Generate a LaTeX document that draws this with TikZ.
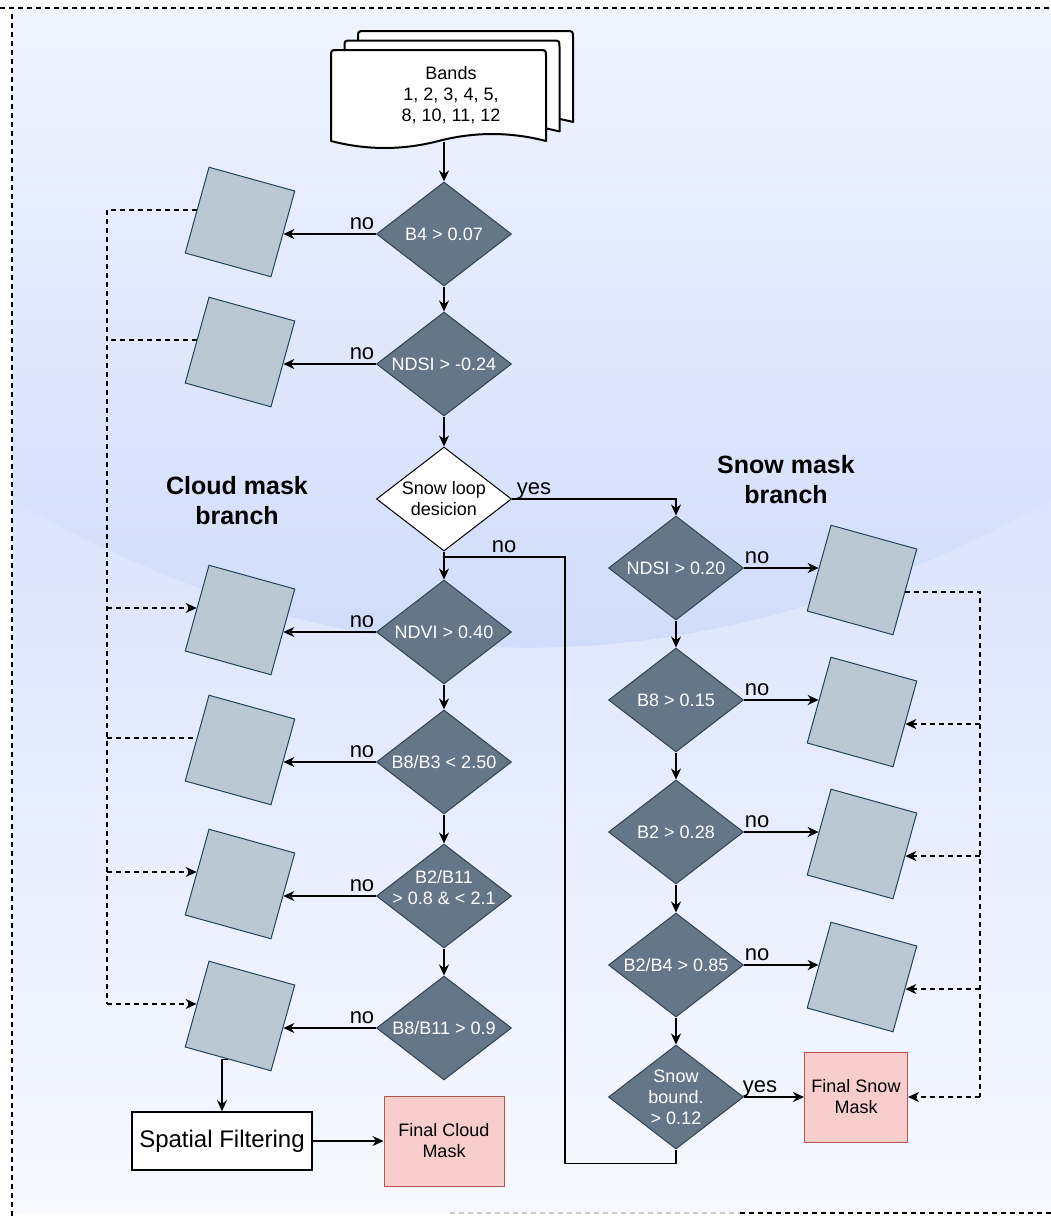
\documentclass[tikz,border=0pt]{standalone}
\usepackage{fontspec}
\setmainfont{Liberation Sans}
\usetikzlibrary{shapes.geometric,arrows.meta,calc}

\definecolor{diafill}{HTML}{647687}
\definecolor{diadraw}{HTML}{314354}
\definecolor{tilefill}{HTML}{BAC8D3}
\definecolor{tiledraw}{HTML}{23445D}
\definecolor{finfill}{HTML}{F8CECC}
\definecolor{findraw}{HTML}{B85450}
\definecolor{bgtop}{HTML}{F0F4FE}
\definecolor{bgmid}{HTML}{D0DCFB}
\definecolor{bglow}{HTML}{DAE4FC}
\definecolor{bgbot}{HTML}{F7F9FF}

\tikzset{
  dia/.style={diamond, draw=diadraw, fill=diafill, line width=1pt,
    minimum width=135pt, minimum height=104pt, inner sep=0pt},
  wdia/.style={dia, fill=white, draw=black},
  dlab/.style={text=white, align=center, inner sep=0pt,
    font=\fontsize{18}{21}\selectfont},
  wlab/.style={dlab, text=black},
  dtile/.style={draw=tiledraw, fill=tilefill, line width=1pt,
    minimum size=89pt, inner sep=0pt, rotate=-15.5},
  fbox/.style={draw=findraw, fill=finfill, line width=1pt, align=center,
    inner sep=0pt, font=\fontsize{18}{21}\selectfont},
  conn/.style={line width=1.5pt, -{Stealth[length=11pt,width=10pt,inset=3.5pt]}},
  conline/.style={line width=1.5pt},
  dashconn/.style={line width=1.3pt, dash pattern=on 5pt off 4pt,
    -{Stealth[length=11pt,width=10pt,inset=3.5pt]}},
  dashline/.style={line width=1.3pt, dash pattern=on 5pt off 4pt},
  lbl/.style={font=\fontsize{22}{24}\selectfont, anchor=base, inner sep=0pt},
  hdr/.style={font=\bfseries\fontsize{25}{30}\selectfont, align=center},
  sheet/.style={fill=white, draw=black, line width=2pt, line join=round},
}

% one sheet of the band stack, shifted by (#1,#2)
\newcommand\bandsheet[2]{%
  \path[sheet, shift={(#1,#2)}]
    (331,141) -- (331,57) .. controls (331,50) .. (338,50)
    -- (539,50) .. controls (546,50) .. (546,57) -- (546,141)
    .. controls (510.2,131.7) and (474.3,131.7) .. (438.5,141)
    .. controls (402.7,150.3) and (366.8,150.3) .. (331,141) -- cycle;}

\begin{document}
\begin{tikzpicture}[x=1pt, y=-1pt]
\useasboundingbox (0,0) rectangle (1051,1216);
\fill[white] (0,0) rectangle (1051,1216);

% background
\shade[top color=bgtop, bottom color=bgmid] (12,8) rectangle (1051,650);
\shade[top color=bglow, bottom color=bgbot]
  (12,500) .. controls (354,697) and (700,697) .. (1051,500)
  -- (1051,1213) -- (12,1213) -- cycle;

% frame
\draw[line width=1.2pt, dash pattern=on 5pt off 4pt] (0,8) -- (1051,8);
\draw[line width=1.2pt, dash pattern=on 5pt off 4pt] (12,14) -- (12,1216);
\draw[line width=1.2pt, dash pattern=on 5pt off 4pt, black!20] (450,1213) -- (740,1213);
\draw[line width=1.2pt, dash pattern=on 5pt off 4pt] (740,1213) -- (1051,1213);

% input bands
\bandsheet{27}{-19}
\bandsheet{13.5}{-9.5}
\bandsheet{0}{0}
\node[align=center, font=\fontsize{18}{21}\selectfont] (bands) at (451,95)
  {Bands\\1, 2, 3, 4, 5,\\8, 10, 11, 12};
\coordinate (bandsout) at (444,142);

% cloud branch decisions
\node[dia, label={[dlab]center:B4 > 0.07}] (d1) at (444,234) {};
\node[dia, label={[dlab]center:NDSI > -0.24}] (d2) at (444,364) {};
\node[wdia, label={[wlab]center:{Snow loop\\desicion}}] (d3) at (444,499) {};
\node[dia, label={[dlab]center:NDVI > 0.40}] (d4) at (444,632) {};
\node[dia, label={[dlab]center:B8/B3 < 2.50}] (d5) at (444,762) {};
\node[dia, label={[dlab, yshift=8pt]center:{B2/B11\\> 0.8 \& < 2.1}}] (d6) at (444,896) {};
\node[dia, label={[dlab]center:B8/B11 > 0.9}] (d7) at (444,1028) {};

% snow branch decisions
\node[dia, label={[dlab]center:NDSI > 0.20}] (r1) at (676,568) {};
\node[dia, label={[dlab]center:B8 > 0.15}] (r2) at (676,700) {};
\node[dia, label={[dlab]center:B2 > 0.28}] (r3) at (676,832) {};
\node[dia, label={[dlab]center:B2/B4 > 0.85}] (r4) at (676,965) {};
\node[dia, label={[dlab]center:{Snow\\bound.\\> 0.12}}] (r5) at (676,1097) {};

% partial masks
\node[dtile] (t1) at (240,222) {};
\node[dtile] (t2) at (240,352) {};
\node[dtile] (t3) at (240,620) {};
\node[dtile] (t4) at (240,750) {};
\node[dtile] (t5) at (240,884) {};
\node[dtile] (t6) at (240,1016) {};
\node[dtile] (u1) at (862,580) {};
\node[dtile] (u2) at (862,712) {};
\node[dtile] (u3) at (862,844) {};
\node[dtile] (u4) at (862,977) {};

% outputs
\node[draw=black, fill=white, line width=1.5pt, minimum width=180pt, minimum height=58pt,
  inner sep=0pt, font=\fontsize{24}{28}\selectfont] (spatial) at (222,1141) {Spatial Filtering};
\node[fbox, minimum width=120pt, minimum height=90pt] (cloudmask) at (444,1141) {Final Cloud\\Mask};
\node[fbox, minimum width=103pt, minimum height=90pt] (snowmask) at (856,1097) {Final Snow\\Mask};

% branch titles
\node[hdr] (cloudhdr) at (237,501) {Cloud mask\\branch};
\node[hdr] (snowhdr) at (786,480) {Snow mask\\branch};

% main flow
\draw[conn] (bandsout) -- (d1.north);
\draw[conn] (d1.south) -- (d2.north);
\draw[conn] (d2.south) -- (d3.north);
\draw[conn] (d3.south) -- (d4.north);
\draw[conn] (d4.south) -- (d5.north);
\draw[conn] (d5.south) -- (d6.north);
\draw[conn] (d6.south) -- (d7.north);
\draw[conn] (d3.east) -| (r1.north);
\draw[conn] (r1.south) -- (r2.north);
\draw[conn] (r2.south) -- (r3.north);
\draw[conn] (r3.south) -- (r4.north);
\draw[conn] (r4.south) -- (r5.north);
\draw[conline] (r5.south) -- ++(0,14) -| (565,557) -| (d3.south);

% rejections
\draw[conn] (d1.west) -- (t1.east |- d1.west);
\draw[conn] (d2.west) -- (t2.east |- d2.west);
\draw[conn] (d4.west) -- (t3.east |- d4.west);
\draw[conn] (d5.west) -- (t4.east |- d5.west);
\draw[conn] (d6.west) -- (t5.east |- d6.west);
\draw[conn] (d7.west) -- (t6.east |- d7.west);
\draw[conn] (r1.east) -- (u1.west |- r1.east);
\draw[conn] (r2.east) -- (u2.west |- r2.east);
\draw[conn] (r3.east) -- (u3.west |- r3.east);
\draw[conn] (r4.east) -- (u4.west |- r4.east);
\draw[conn] (r5.east) -- (snowmask.west);
\draw[conn] (t6.south) -| (spatial.north);
\draw[conn] (spatial.east) -- (cloudmask.west);

% answer labels
\node[lbl] (n1) at (362,229) {no};
\node[lbl] (n2) at (362,359) {no};
\node[lbl] (n4) at (362,627) {no};
\node[lbl] (n5) at (362,757) {no};
\node[lbl] (n6) at (362,891) {no};
\node[lbl] (n7) at (362,1023) {no};
\node[lbl] (m1) at (757,563) {no};
\node[lbl] (m2) at (757,695) {no};
\node[lbl] (m3) at (757,827) {no};
\node[lbl] (m4) at (757,960) {no};
\node[lbl] (yes1) at (534,494) {yes};
\node[lbl] (no3) at (504,552) {no};
\node[lbl] (yes2) at (760,1092) {yes};

% mask feedback lines
\coordinate (lbar) at (107,0);
\draw[dashline] (t1.west) -- (t1.west -| lbar) -- (lbar |- t6.west);
\draw[dashline] (t2.west) -- (t2.west -| lbar);
\draw[dashconn] (lbar |- t3.west) -- (t3.west);
\draw[dashline] (lbar |- t4.west) -- (t4.west);
\draw[dashconn] (lbar |- t5.west) -- (t5.west);
\draw[dashconn] (lbar |- t6.west) -- (t6.west);

\coordinate (rbar) at (980,0);
\draw[dashline] (u1.east) -- (u1.east -| rbar) -- (rbar |- snowmask.east);
\draw[dashconn] (rbar |- u2.east) -- (u2.east);
\draw[dashconn] (rbar |- u3.east) -- (u3.east);
\draw[dashconn] (rbar |- u4.east) -- (u4.east);
\draw[dashconn] (rbar |- snowmask.east) -- (snowmask.east);
\end{tikzpicture}
\end{document}
